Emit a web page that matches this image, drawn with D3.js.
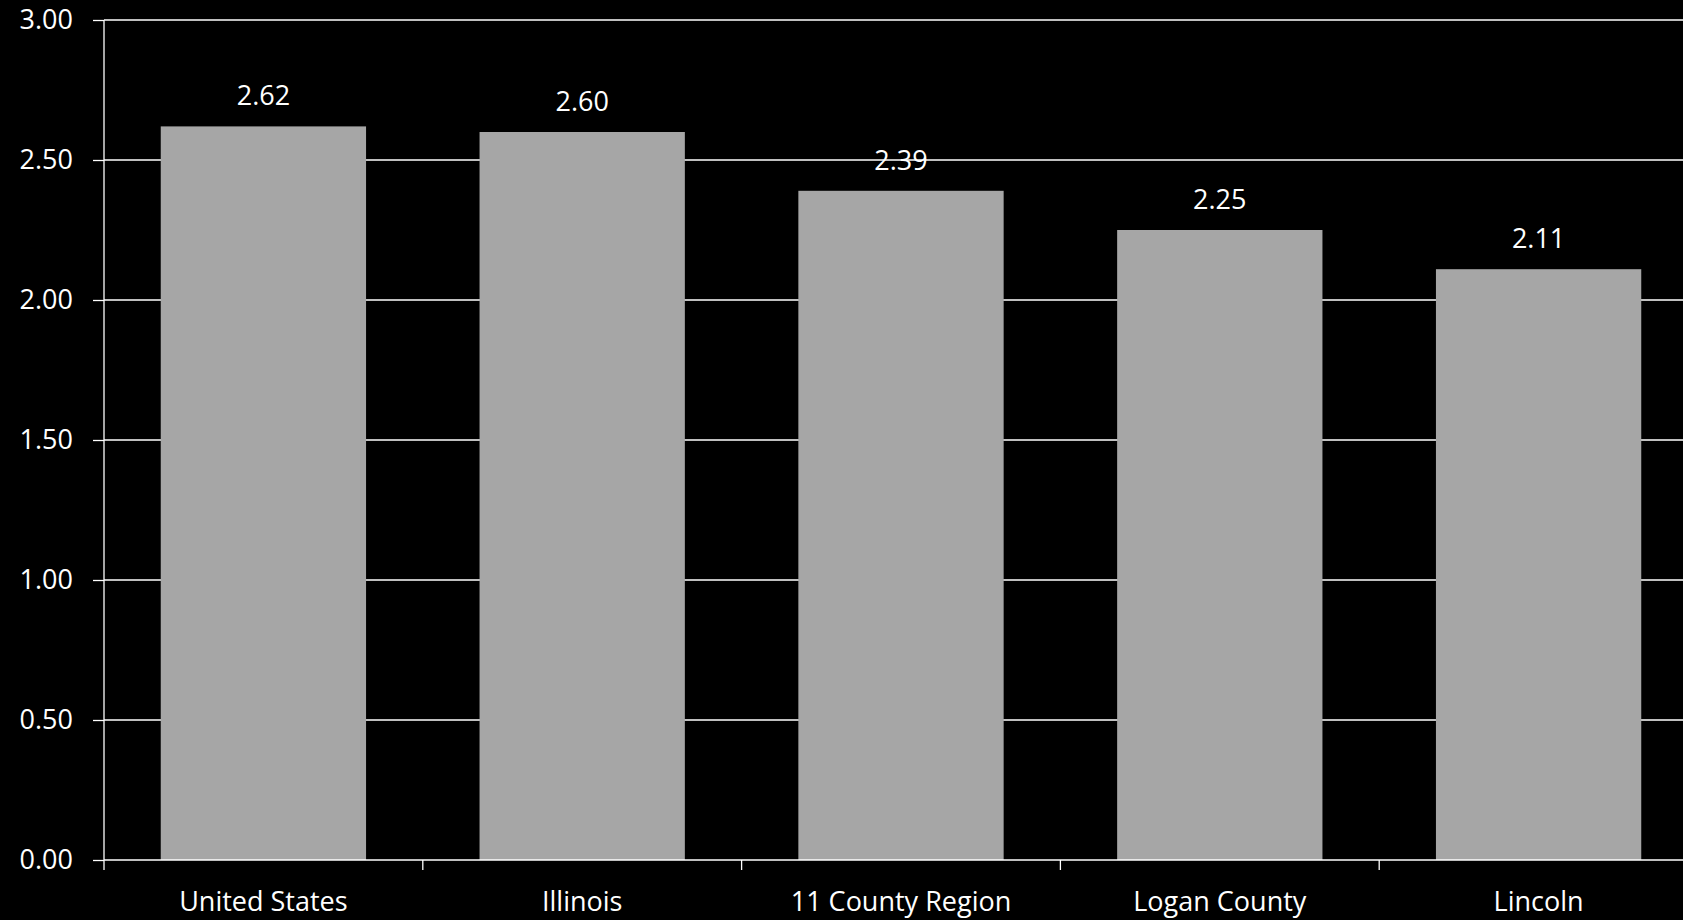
<!DOCTYPE html>
<html>
<head>
<meta charset="utf-8">
<script src="https://cdn.jsdelivr.net/npm/d3@7"></script>
<style>
  body { margin: 0; background: #000; }
  svg { display: block; }
  text { font-family: "Open Sans", "Noto Sans", sans-serif; fill: #fff; }
</style>
</head>
<body>
<div id="chart-area"></div>
<script>
let categories = ["United States", "Illinois", "11 County Region", "Logan County", "Lincoln"];
let values = [2.62, 2.60, 2.39, 2.25, 2.11];
let yTicks = [0, 0.5, 1.0, 1.5, 2.0, 2.5, 3.0];

let margin = { left: 104, right: -15, top: 20, bottom: 60 };
let width = 1683 - margin.left - margin.right;
let height = 920 - margin.top - margin.bottom;

let svg = d3.select("#chart-area")
  .append("svg")
  .attr("width", 1683)
  .attr("height", 920)
  .style("background", "#000");

let g = svg.append("g")
  .attr("transform", "translate(" + margin.left + "," + margin.top + ")");

let x = d3.scaleBand()
  .domain(categories)
  .range([0, width])
  .paddingInner(0.356)
  .paddingOuter(0.178);

let y = d3.scaleLinear()
  .domain([0, 3])
  .range([height, 0]);

// gridlines
g.append("g")
  .selectAll("line")
  .data(yTicks.slice(1))
  .enter()
  .append("line")
  .attr("x1", 0)
  .attr("x2", width)
  .attr("y1", d => y(d))
  .attr("y2", d => y(d))
  .attr("stroke", "#fff")
  .attr("stroke-width", 1.3);

// bars
g.selectAll("rect")
  .data(values)
  .enter()
  .append("rect")
  .attr("x", (d, i) => x(categories[i]))
  .attr("y", d => y(d))
  .attr("width", x.bandwidth())
  .attr("height", d => height - y(d))
  .attr("fill", "#a6a6a6");

// value labels
g.selectAll(".val")
  .data(values)
  .enter()
  .append("text")
  .attr("class", "val")
  .attr("x", (d, i) => x(categories[i]) + x.bandwidth() / 2)
  .attr("y", d => y(d) - 21)
  .attr("text-anchor", "middle")
  .attr("font-size", "27px")
  .text(d => d.toFixed(2));

// y axis
let yAxisCall = d3.axisLeft(y)
  .tickValues(yTicks)
  .tickSize(11)
  .tickPadding(20)
  .tickFormat(d3.format(".2f"));

let yAxis = g.append("g")
  .call(yAxisCall);
yAxis.select(".domain").attr("stroke", "#fff").attr("stroke-width", 1.3).attr("d", "M0," + height + "V0");
yAxis.selectAll(".tick line").attr("stroke", "#fff").attr("stroke-width", 1.3);
yAxis.selectAll("text").attr("font-size", "27px").attr("fill", "#fff");

// x axis: ticks at category boundaries
let step = x.step();
g.append("line")
  .attr("x1", 0).attr("x2", width)
  .attr("y1", height).attr("y2", height)
  .attr("stroke", "#fff").attr("stroke-width", 1.5);

g.selectAll(".xtick")
  .data(d3.range(categories.length + 1))
  .enter()
  .append("line")
  .attr("class", "xtick")
  .attr("x1", d => d * step)
  .attr("x2", d => d * step)
  .attr("y1", height)
  .attr("y2", height + 10)
  .attr("stroke", "#fff").attr("stroke-width", 1.3);

g.selectAll(".cat")
  .data(categories)
  .enter()
  .append("text")
  .attr("class", "cat")
  .attr("x", d => x(d) + x.bandwidth() / 2)
  .attr("y", height + 51)
  .attr("text-anchor", "middle")
  .attr("font-size", "27px")
  .text(d => d);
</script>
</body>
</html>
